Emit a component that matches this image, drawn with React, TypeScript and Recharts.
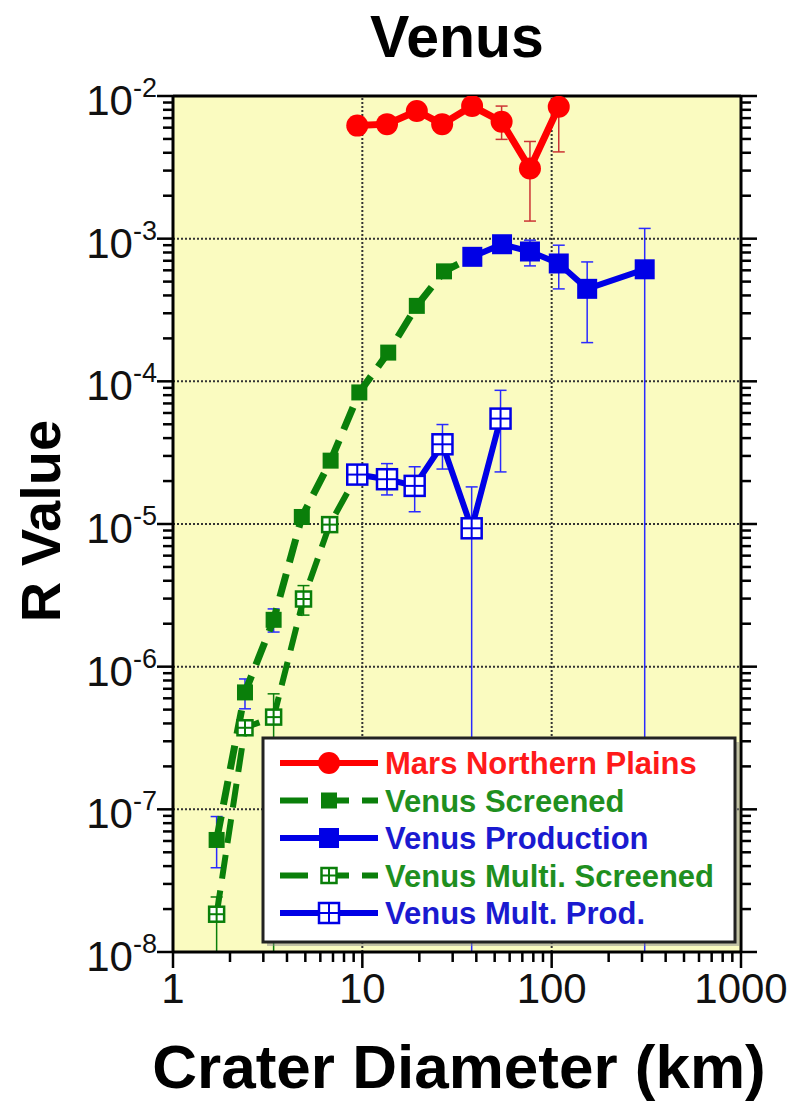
import React from 'react';
import { LineChart, Line, XAxis, YAxis, CartesianGrid, ReferenceLine, ErrorBar } from 'recharts';

// crater diameter bins (km) and R values
const marsD = [9.4, 13.5, 19.4, 26.4, 38, 54.4, 76.8, 109];
const marsR = [6.2e-3, 6.35e-3, 7.85e-3, 6.35e-3, 8.5e-3, 6.6e-3, 3.1e-3, 8.4e-3];
const marsLo = [null, null, null, null, null, 4.97e-3, 1.33e-3, 4.06e-3];
const marsHi = [null, null, null, null, null, 8.5e-3, 4.8e-3, 9.8e-3];

const scrD = [1.7, 2.4, 3.4, 4.79, 6.8, 9.64, 13.7, 19.4, 27, 38.1];
const scrR = [6.1e-8, 6.6e-7, 2.13e-6, 1.12e-5, 2.78e-5, 8.36e-5, 1.59e-4, 3.38e-4, 5.9e-4, 7.46e-4];
const scrLo = [3.9e-8, 5.07e-7, 1.75e-6, null, null, null, null, null, null, null];
const scrHi = [8.9e-8, 8.2e-7, 2.54e-6, null, null, null, null, null, null, null];

const prodD = [38.1, 54.7, 76.8, 109, 154, 310];
const prodR = [7.46e-4, 9.14e-4, 8.13e-4, 6.7e-4, 4.45e-4, 6.1e-4];
const prodLo = [null, null, 6.45e-4, 4.45e-4, 1.87e-4, 1e-8];
const prodHi = [null, null, 9.76e-4, 9.0e-4, 6.87e-4, 1.18e-3];

const mScrD = [1.7, 2.4, 3.4, 4.89, 6.72, 9.4];
const mScrR = [1.84e-8, 3.73e-7, 4.43e-7, 2.98e-6, 9.9e-6, 2.22e-5];
const mScrLo = [1e-8, null, 1e-8, 2.3e-6, null, null];
const mScrHi = [2.43e-8, null, 6.45e-7, 3.7e-6, null, null];

const mProdD = [9.4, 13.5, 18.9, 26.5, 37.8, 53.7];
const mProdR = [2.22e-5, 2.06e-5, 1.85e-5, 3.62e-5, 9.33e-6, 5.48e-5];
const mProdLo = [null, 1.6e-5, 1.22e-5, 2.43e-5, 1e-8, 2.32e-5];
const mProdHi = [null, 2.65e-5, 2.52e-5, 4.98e-5, 1.82e-5, 8.65e-5];

const xMajors = [1, 10, 100, 1000];
const yMajors = [1e-8, 1e-7, 1e-6, 1e-5, 1e-4, 1e-3, 1e-2];

const RED = '#ff0000';
const GREEN = '#0a7f0a';
const BLUE = '#0000e6';
const FONT = '"Liberation Sans", Arial, sans-serif';

// log minor ticks (2..9 within each decade)
const withMinors = (majors: number[]) => {
  const out: number[] = [];
  majors.forEach((m, i) => {
    out.push(m);
    if (i < majors.length - 1) for (let k = 2; k <= 9; k++) out.push(m * k);
  });
  return out;
};
const xTicks = withMinors(xMajors);
const yTicks = withMinors(yMajors);

const isMajor = (v: number) => Math.abs(Math.log10(v) - Math.round(Math.log10(v))) < 1e-6;
const tickLen = (v: number) => (isMajor(v) ? 16 : 10);

const build = (d: number[], r: number[], lo: (number | null)[], hi: (number | null)[]) =>
  d.map((x, i) => ({
    d: x,
    r: r[i],
    err: lo[i] != null && hi[i] != null ? [r[i] - (lo[i] as number) * 0.999, (hi[i] as number) - r[i]] : null,
  }));

const marsData = build(marsD, marsR, marsLo, marsHi);
const scrData = build(scrD, scrR, scrLo, scrHi);
const prodData = build(prodD, prodR, prodLo, prodHi);
const mScrData = build(mScrD, mScrR, mScrLo, mScrHi);
const mProdData = build(mProdD, mProdR, mProdLo, mProdHi);

const circleDot = (color: string, r: number) => (p: any) =>
  <circle key={`c-${p.index}`} cx={p.cx} cy={p.cy} r={r} fill={color} />;

const squareDot = (color: string, s: number) => (p: any) =>
  <rect key={`s-${p.index}`} x={p.cx - s / 2} y={p.cy - s / 2} width={s} height={s} fill={color} />;

const OpenSquare = ({ cx, cy, s, color }: { cx: number; cy: number; s: number; color: string }) => (
  <g>
    <rect x={cx - s / 2} y={cy - s / 2} width={s} height={s} fill="#fff" stroke={color} strokeWidth={2.5} />
    <line x1={cx} x2={cx} y1={cy - s / 2} y2={cy + s / 2} stroke={color} strokeWidth={2} />
    <line x1={cx - s / 2} x2={cx + s / 2} y1={cy} y2={cy} stroke={color} strokeWidth={2} />
  </g>
);
const openDot = (color: string, s: number) => (p: any) =>
  <OpenSquare key={`o-${p.index}`} cx={p.cx} cy={p.cy} s={s} color={color} />;

// tick renderers: outward marks on all four sides, decade labels bottom/left
function bottomTick(p: any) {
  const x = Number(p.x);
  const y = Number(p.y);
  const v = p.payload.value;
  return (
    <g>
      <rect x={x - 1.25} y={y} width={2.5} height={tickLen(v)} fill="#000" />
      {isMajor(v) && (
        <text x={x} y={y + 51} textAnchor="middle" fontSize={42} fontFamily={FONT} fill="#111">
          {v}
        </text>
      )}
    </g>
  );
}

function topTick(p: any) {
  const x = Number(p.x);
  const y = Number(p.y);
  const len = tickLen(p.payload.value);
  return <rect x={x - 1.25} y={y - len} width={2.5} height={len} fill="#000" />;
}

function leftTick(p: any) {
  const x = Number(p.x);
  const y = Number(p.y);
  const v = p.payload.value;
  return (
    <g>
      <rect x={x - tickLen(v)} y={y - 1.25} width={tickLen(v)} height={2.5} fill="#000" />
      {isMajor(v) && (
        <text x={x - 16} y={y + 19} textAnchor="end" fontSize={42} fontFamily={FONT} fill="#111">
          <tspan>10</tspan>
          <tspan dy={-18} fontSize={27}>{Math.round(Math.log10(v))}</tspan>
        </text>
      )}
    </g>
  );
}

function rightTick(p: any) {
  const x = Number(p.x);
  const y = Number(p.y);
  const len = tickLen(p.payload.value);
  return <rect x={x} y={y - 1.25} width={len} height={2.5} fill="#000" />;
}

const legendRows = [
  { label: 'Mars Northern Plains', color: RED, text: '#ff1a1a', dashed: false, marker: 'circle' },
  { label: 'Venus Screened', color: GREEN, text: '#1f8f1f', dashed: true, marker: 'greenSquare' },
  { label: 'Venus Production', color: BLUE, text: '#1a1ad0', dashed: false, marker: 'blueSquare' },
  { label: 'Venus Multi. Screened', color: GREEN, text: '#1f8f1f', dashed: true, marker: 'greenOpen' },
  { label: 'Venus Mult. Prod.', color: BLUE, text: '#1a1ad0', dashed: false, marker: 'blueOpen' },
];

const Overlay = () => (
  <svg width={791} height={1110} style={{ position: 'absolute', left: 0, top: 0, pointerEvents: 'none' }}>
    <text x={457} y={57} textAnchor="middle" fontSize={59} fontWeight="bold" fontFamily={FONT} fill="#000">
      Venus
    </text>
    <text x={459} y={1088} textAnchor="middle" fontSize={62} fontWeight="bold" fontFamily={FONT} fill="#000">
      Crater Diameter (km)
    </text>
    <text
      transform="translate(60,521) rotate(-90)"
      textAnchor="middle"
      fontSize={56}
      fontWeight="bold"
      fontFamily={FONT}
      fill="#000"
    >
      R Value
    </text>
    <g>
      <rect x={267} y={742} width={472} height={204} fill="#888" opacity={0.5} />
      <rect x={263} y={738} width={472} height={204} fill="#fff" stroke="#222" strokeWidth={3} />
      {legendRows.map((row, i) => {
        const cy = 763 + i * 37.5;
        return (
          <g key={row.label}>
            <line
              x1={280}
              x2={378}
              y1={cy}
              y2={cy}
              stroke={row.color}
              strokeWidth={6}
              strokeDasharray={row.dashed ? '28 13' : undefined}
            />
            {row.marker === 'circle' && <circle cx={329} cy={cy} r={11} fill={RED} />}
            {row.marker === 'greenSquare' && <rect x={321} y={cy - 8} width={16} height={16} fill={GREEN} />}
            {row.marker === 'blueSquare' && <rect x={319} y={cy - 10} width={20} height={20} fill={BLUE} />}
            {row.marker === 'greenOpen' && <OpenSquare cx={329} cy={cy} s={15} color={GREEN} />}
            {row.marker === 'blueOpen' && <OpenSquare cx={329} cy={cy} s={20} color={BLUE} />}
            <text x={385} y={cy + 11} fontSize={31} fontWeight="bold" fontFamily={FONT} fill={row.text}>
              {row.label}
            </text>
          </g>
        );
      })}
    </g>
  </svg>
);

export default function App() {
  const axisLine = { stroke: '#000', strokeWidth: 3 };
  return (
    <div style={{ position: 'absolute', left: 0, top: 0, width: 791, height: 1110, background: '#fff' }}>
      <LineChart width={791} height={1110} margin={{ top: 95, right: 40, bottom: 0, left: 0 }}>
        <CartesianGrid fill="#fafbc0" horizontal={false} vertical={false} />
        <XAxis
          dataKey="d"
          type="number"
          scale="log"
          domain={[1, 1000]}
          ticks={xTicks}
          interval={0}
          allowDataOverflow
          height={158}
          tickSize={0}
          tickMargin={0}
          tickLine={false}
          axisLine={axisLine}
          tick={bottomTick}
        />
        <XAxis
          xAxisId="top"
          orientation="top"
          type="number"
          scale="log"
          domain={[1, 1000]}
          ticks={xTicks}
          interval={0}
          allowDataOverflow
          height={1}
          tickSize={0}
          tickMargin={0}
          tickLine={false}
          axisLine={axisLine}
          tick={topTick}
        />
        <YAxis
          type="number"
          scale="log"
          domain={[1e-8, 1e-2]}
          ticks={yTicks}
          interval={0}
          allowDataOverflow
          width={173}
          tickSize={0}
          tickMargin={0}
          tickLine={false}
          axisLine={axisLine}
          tick={leftTick}
        />
        <YAxis
          yAxisId="right"
          orientation="right"
          type="number"
          scale="log"
          domain={[1e-8, 1e-2]}
          ticks={yTicks}
          interval={0}
          allowDataOverflow
          width={10}
          tickSize={0}
          tickMargin={0}
          tickLine={false}
          axisLine={axisLine}
          tick={rightTick}
        />
        {xMajors.slice(1, -1).map((v) => (
          <ReferenceLine key={`vx-${v}`} x={v} stroke="#333" strokeWidth={2} strokeDasharray="2 2" />
        ))}
        {yMajors.slice(1, -1).map((v) => (
          <ReferenceLine key={`hy-${v}`} y={v} stroke="#333" strokeWidth={2} strokeDasharray="2 2" />
        ))}

        <Line
          data={marsData}
          dataKey="r"
          stroke={RED}
          strokeWidth={7}
          dot={circleDot(RED, 11)}
          activeDot={false}
          isAnimationActive={false}
        >
          <ErrorBar dataKey="err" direction="y" width={6} strokeWidth={1.5} stroke="#cc3333" isAnimationActive={false} />
        </Line>
        <Line
          data={scrData}
          dataKey="r"
          stroke={GREEN}
          strokeWidth={7}
          strokeDasharray="24 12"
          dot={squareDot(GREEN, 16)}
          activeDot={false}
          isAnimationActive={false}
        >
          <ErrorBar dataKey="err" direction="y" width={6} strokeWidth={1.5} stroke="#2a2aff" isAnimationActive={false} />
        </Line>
        <Line
          data={mScrData}
          dataKey="r"
          stroke={GREEN}
          strokeWidth={6}
          strokeDasharray="24 12"
          dot={openDot(GREEN, 15)}
          activeDot={false}
          isAnimationActive={false}
        >
          <ErrorBar dataKey="err" direction="y" width={6} strokeWidth={1.5} stroke={GREEN} isAnimationActive={false} />
        </Line>
        <Line
          data={prodData}
          dataKey="r"
          stroke={BLUE}
          strokeWidth={6}
          dot={squareDot(BLUE, 20)}
          activeDot={false}
          isAnimationActive={false}
        >
          <ErrorBar dataKey="err" direction="y" width={6} strokeWidth={1.5} stroke="#2a2aff" isAnimationActive={false} />
        </Line>
        <Line
          data={mProdData}
          dataKey="r"
          stroke={BLUE}
          strokeWidth={6}
          dot={openDot(BLUE, 20)}
          activeDot={false}
          isAnimationActive={false}
        >
          <ErrorBar dataKey="err" direction="y" width={6} strokeWidth={1.5} stroke="#2a2aff" isAnimationActive={false} />
        </Line>
      </LineChart>
      <Overlay />
    </div>
  );
}
